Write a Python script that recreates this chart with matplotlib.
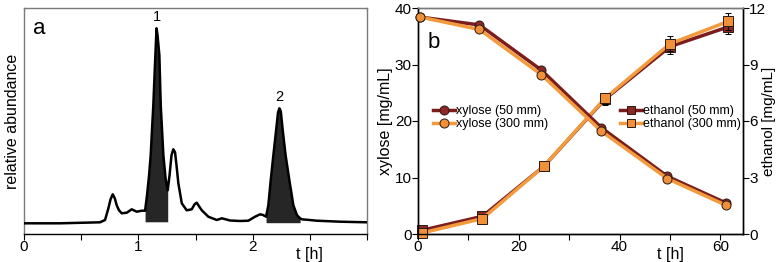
import numpy as np
import matplotlib
matplotlib.use("Agg")
import matplotlib.pyplot as plt
from matplotlib.transforms import blended_transform_factory

plt.rcParams['font.family'] = ['Liberation Sans', 'DejaVu Sans']

# ---------------- Panel a: chromatogram ----------------
chrom_t = [0.000, 0.315, 0.665, 0.709, 0.738, 0.757, 0.776, 0.794, 0.811, 0.831,
           0.855, 0.899, 0.942, 0.986, 1.030, 1.059, 1.076, 1.094, 1.108, 1.131,
           1.149, 1.159, 1.168, 1.184, 1.196, 1.219, 1.238, 1.257, 1.273, 1.290,
           1.306, 1.321, 1.334, 1.350, 1.380, 1.423, 1.467, 1.492, 1.511, 1.531,
           1.555, 1.612, 1.686, 1.730, 1.802, 1.890, 1.962, 2.021, 2.065, 2.091,
           2.117, 2.137, 2.158, 2.181, 2.205, 2.222, 2.234, 2.246, 2.263, 2.288,
           2.321, 2.356, 2.388, 2.415, 2.430, 2.561, 2.765, 2.998]
chrom_y = [0.0, 0.0, 1.0, 3.3, 15, 24, 29, 25, 18, 13,
           10, 10.6, 14, 11.6, 12.6, 12.6, 28, 48, 68, 118,
           168, 195, 188, 168, 118, 68, 45, 33, 48, 68,
           74, 71, 58, 40, 20, 13, 14, 19, 20.6, 17,
           13, 6.6, 3.3, 5, 2.8, 2.3, 2.6, 6.6, 9, 8.3,
           6.6, 18, 43, 68, 93, 111, 115, 112, 93, 68,
           43, 18, 8, 5, 4, 2.6, 1.6, 1.0]
peak_labels = ["1", "2"]
peak_bounds = [(1.059, 1.257), (2.117, 2.415)]
peak_base = [1.5, 0.6]

# ---------------- Panel b: fermentation ----------------
t_xyl = [0.4, 12.2, 24.5, 36.4, 49.5, 61.1]
xyl_50 = [38.4, 37.0, 29.0, 18.8, 10.2, 5.5]
xyl_300 = [38.4, 36.2, 28.2, 18.2, 9.8, 5.1]
t_eth = [0.7, 12.8, 25.0, 37.1, 50.0, 61.6]
eth_50 = [0.19, 0.94, 3.6, 7.16, 9.95, 11.0]
eth_300 = [0.05, 0.82, 3.6, 7.2, 10.1, 11.29]
eth_50_err = [0.1, 0.1, 0.15, 0.3, 0.4, 0.4]
eth_300_err = [0.1, 0.1, 0.15, 0.3, 0.4, 0.45]

dark = "#7c1d1d"
dark_face = "#8e2828"
orange = "#f39a3d"
orange_face = "#f0913a"
gray = "#7a7a7a"

TICK_FS = 11
LAB_FS = 11.5

fig = plt.figure(figsize=(7.78, 2.62), dpi=100)
W, H = 778, 262

def ax_rect(l, r, t, b):
    return [l / W, 1 - b / H, (r - l) / W, (b - t) / H]

# ---- panel a ----
axa = fig.add_axes(ax_rect(24, 367, 8, 234))
ct = np.array(chrom_t)
cy = np.array(chrom_y)
for (lo, hi), base in zip(peak_bounds, peak_base):
    m = (ct >= lo - 1e-9) & (ct <= hi + 1e-9)
    axa.fill_between(ct[m], cy[m], base, color="#262626", lw=0, zorder=2)
axa.plot(ct, cy, color="black", lw=1.8, zorder=3, solid_joinstyle='round')
axa.set_xlim(0, 3)
axa.set_ylim(-10.7, 215.3)
for (lo, hi), lab in zip(peak_bounds, peak_labels):
    m = (ct >= lo) & (ct <= hi)
    i = np.argmax(cy[m])
    axa.text(ct[m][i], cy[m][i] + 4, lab, ha="center", va="bottom", fontsize=10.5)
axa.set_xticks([0, 1, 2])
axa.set_xticks([0.5, 1.5, 2.5, 3.0], minor=True)
axa.set_yticks([])
axa.tick_params(axis="x", which="both", direction="out", length=4, width=0.8,
                labelsize=TICK_FS, pad=0.5)
for s in ["top", "left", "right"]:
    axa.spines[s].set_color(gray)
    axa.spines[s].set_linewidth(1.0)
axa.spines["bottom"].set_linewidth(1.0)
axa.set_ylabel("relative abundance", fontsize=LAB_FS, labelpad=3)
trans_a = blended_transform_factory(axa.transData, axa.transAxes)
axa.text(2.5, -0.058, "t [h]", transform=trans_a, ha="center", va="top", fontsize=LAB_FS)
axa.text(0.025, 0.955, "a", transform=axa.transAxes, ha="left", va="top", fontsize=16)

# ---- panel b ----
axb = fig.add_axes(ax_rect(418, 743, 8, 234))
axr = axb.twinx()
axb.set_zorder(2)
axb.patch.set_visible(False)

mk = dict(ms=6.5, mew=0.7, mec="#2a1a10", clip_on=False)
l1, = axb.plot(t_xyl, xyl_50, "-o", color=dark, mfc=dark_face, lw=2.5, label="xylose (50 mm)", zorder=3, **mk)
l2, = axb.plot(t_xyl, xyl_300, "-o", color=orange, mfc=orange_face, lw=2.5, label="xylose (300 mm)", zorder=4, **mk)
axr.errorbar(t_eth, eth_50, yerr=eth_50_err, fmt="-s", color=dark, mfc=dark_face, ecolor="black",
             elinewidth=0.8, capsize=2.5, capthick=0.8, lw=2.5, zorder=3, **mk)
axr.errorbar(t_eth, eth_300, yerr=eth_300_err, fmt="-s", color=orange, mfc=orange_face, ecolor="black",
             elinewidth=0.8, capsize=2.5, capthick=0.8, lw=2.5, zorder=4, **mk)
h3, = axr.plot([], [], "-s", color=dark, mfc=dark_face, lw=2.5, ms=6, mew=0.7, mec="#2a1a10", label="ethanol (50 mm)")
h4, = axr.plot([], [], "-s", color=orange, mfc=orange_face, lw=2.5, ms=6, mew=0.7, mec="#2a1a10", label="ethanol (300 mm)")

axb.set_xlim(0, 64.5)
axb.set_ylim(0, 40)
axr.set_ylim(0, 12)
axb.set_xticks([0, 20, 40, 60])
axb.set_xticks([10, 30, 50], minor=True)
axb.set_yticks([0, 10, 20, 30, 40])
axr.set_yticks([0, 3, 6, 9, 12])
for a in (axb, axr):
    a.tick_params(which="both", direction="out", length=4, width=0.8, labelsize=TICK_FS, pad=0.5)
    a.spines["top"].set_color(gray)
    a.spines["top"].set_linewidth(1.0)
    for s in ("left", "right", "bottom"):
        a.spines[s].set_linewidth(1.0)
axb.set_ylabel("xylose [mg/mL]", fontsize=LAB_FS, labelpad=1)
axr.set_ylabel("ethanol [mg/mL]", fontsize=11)
axr.yaxis.set_label_coords(1.058, 0.5)
trans_b = blended_transform_factory(axb.transData, axb.transAxes)
axb.text(50, -0.058, "t [h]", transform=trans_b, ha="center", va="top", fontsize=LAB_FS)
axb.text(0.03, 0.895, "b", transform=axb.transAxes, ha="left", va="top", fontsize=16)

leg1 = axb.legend(handles=[l1, l2], loc="center left", bbox_to_anchor=(0.045, 0.515),
                  frameon=False, fontsize=9, handlelength=1.8, handletextpad=0.1,
                  labelspacing=0.05, borderpad=0, borderaxespad=0)
axb.add_artist(leg1)
axb.legend(handles=[h3, h4], loc="center left", bbox_to_anchor=(0.62, 0.515),
           frameon=False, fontsize=9, handlelength=1.8, handletextpad=0.1,
           labelspacing=0.05, borderpad=0, borderaxespad=0)

fig.savefig("out.png", dpi=100)
